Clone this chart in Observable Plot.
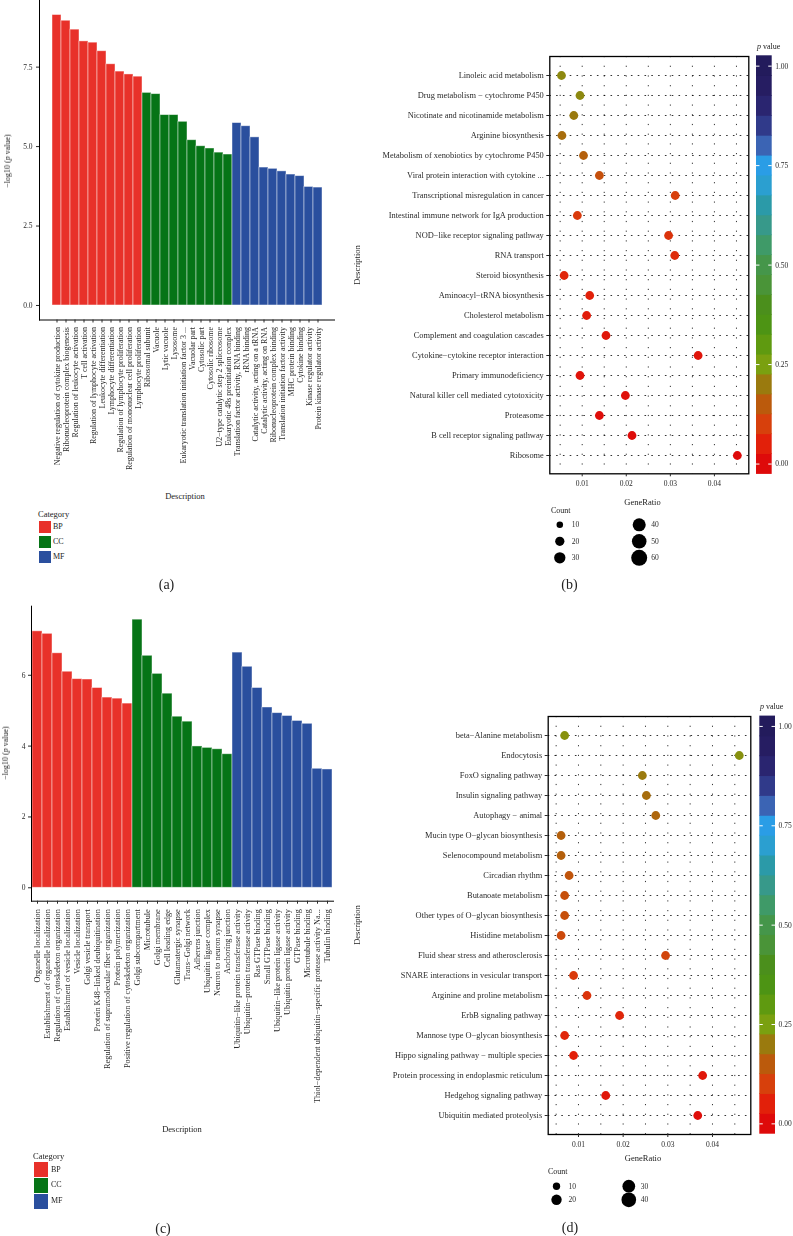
<!DOCTYPE html>
<html><head><meta charset="utf-8">
<script src="https://cdn.jsdelivr.net/npm/d3@7"></script>
<script src="https://cdn.jsdelivr.net/npm/@observablehq/plot@0.6"></script>
<style>
body{margin:0;background:#fff;}
#fig{position:relative;width:793px;height:1236px;overflow:hidden;font-family:"Liberation Serif",serif;color:#222;}
.t{position:absolute;white-space:nowrap;line-height:1;}
svg{position:absolute;overflow:visible;will-change:transform;}
</style></head><body><div id="fig"></div>
<script>
// ---------- DATA ----------
const categories = ["BP","CC","MF"];
const categoryColors = ["#e8312a","#067416","#2a4f9e"];

// Panel (a) GO terms
const aBP = ["Negative regulation of cytokine production","Ribonucleoprotein complex biogenesis","Regulation of leukocyte activation","T cell activation","Regulation of lymphocyte activation","Leukocyte differentiation","Lymphocyte differentiation","Regulation of lymphocyte proliferation","Regulation of mononuclear cell proliferation","Lymphocyte proliferation"];
const aBPValues = [9.14, 8.96, 8.68, 8.31, 8.27, 8.00, 7.59, 7.36, 7.27, 7.20];
const aCC = ["Ribosomal subunit","Vacuole","Lytic vacuole","Lysosome","Eukaryotic translation initiation factor 3 ...","Vacuolar part","Cytosolic part","Cytosolic ribosome","U2−type catalytic step 2 spliceosome","Eukaryotic 48s preinitiation complex"];
const aCCValues = [6.69, 6.65, 5.99, 5.99, 5.78, 5.20, 5.01, 4.94, 4.81, 4.75];
const aMF = ["Translation factor activity, RNA binding","rRNA binding","Catalytic activity, acting on a tRNA","Catalytic activity, acting on RNA","Ribonucleoprotein complex binding","Translation initiation factor activity","MHC protein binding","Cytokine binding","Kinase regulator activity","Protein kinase regulator activity"];
const aMFValues = [5.74, 5.64, 5.29, 4.34, 4.30, 4.22, 4.12, 4.07, 3.73, 3.71];
const aYTicks = [0, 2.5, 5, 7.5];

// Panel (c) GO terms
const cBP = ["Organelle localization","Establishment of organelle localization","Regulation of cytoskeleton organization","Establishment of vesicle localization","Vesicle localization","Golgi vesicle transport","Protein K48−linked deubiquitination","Regulation of supramolecular fiber organization","Protein polymerization","Positive regulation of cytoskeleton organization"];
const cBPValues = [7.24, 7.17, 6.62, 6.10, 5.89, 5.88, 5.64, 5.37, 5.34, 5.20];
const cCC = ["Golgi subcompartment","Microtubule","Golgi membrane","Cell leading edge","Glutamatergic synapse","Trans−Golgi network","Adherens junction","Ubiquitin ligase complex","Neuron to neuron synapse","Anchoring junction"];
const cCCValues = [7.57, 6.55, 6.04, 5.48, 4.83, 4.69, 3.99, 3.95, 3.91, 3.77];
const cMF = ["Ubiquitin−like protein transferase activity","Ubiquitin−protein transferase activity","Ras GTPase binding","Small GTPase binding","Ubiquitin−like protein ligase activity","Ubiquitin protein ligase activity","GTPase binding","Microtubule binding","Thiol−dependent ubiquitin−specific protease activity Na...","Tubulin binding"];
const cMFValues = [6.64, 6.24, 5.64, 5.09, 4.93, 4.85, 4.71, 4.63, 3.36, 3.34];
const cYTicks = [0, 2, 4, 6];

// Panel (b) KEGG
const bTerms = ["Linoleic acid metabolism","Drug metabolism − cytochrome P450","Nicotinate and nicotinamide metabolism","Arginine biosynthesis","Metabolism of xenobiotics by cytochrome P450","Viral protein interaction with cytokine ...","Transcriptional misregulation in cancer","Intestinal immune network for IgA production","NOD−like receptor signaling pathway","RNA transport","Steroid biosynthesis","Aminoacyl−tRNA biosynthesis","Cholesterol metabolism","Complement and coagulation cascades","Cytokine−cytokine receptor interaction","Primary immunodeficiency","Natural killer cell mediated cytotoxicity","Proteasome","B cell receptor signaling pathway","Ribosome"];
const bGeneRatio = [0.0053, 0.0095, 0.0081, 0.0054, 0.0103, 0.0139, 0.0311, 0.0089, 0.0296, 0.0310, 0.0059, 0.0117, 0.0110, 0.0154, 0.0363, 0.0095, 0.0198, 0.0139, 0.0213, 0.0452];
const bPValue = [0.22, 0.22, 0.20, 0.18, 0.16, 0.13, 0.10, 0.09, 0.08, 0.07, 0.06, 0.05, 0.04, 0.03, 0.025, 0.02, 0.015, 0.01, 0.005, 0.001];
const bCountLegend = [10, 20, 30, 40, 50, 60];

// Panel (d) KEGG
const dTerms = ["beta−Alanine metabolism","Endocytosis","FoxO signaling pathway","Insulin signaling pathway","Autophagy − animal","Mucin type O−glycan biosynthesis","Selenocompound metabolism","Circadian rhythm","Butanoate metabolism","Other types of O−glycan biosynthesis","Histidine metabolism","Fluid shear stress and atherosclerosis","SNARE interactions in vesicular transport","Arginine and proline metabolism","ErbB signaling pathway","Mannose type O−glycan biosynthesis","Hippo signaling pathway − multiple species","Protein processing in endoplasmic reticulum","Hedgehog signaling pathway","Ubiquitin mediated proteolysis"];
const dGeneRatio = [0.0069, 0.0460, 0.0243, 0.0252, 0.0273, 0.0061, 0.0061, 0.0079, 0.0069, 0.0069, 0.0061, 0.0295, 0.0089, 0.0119, 0.0192, 0.0069, 0.0089, 0.0378, 0.0161, 0.0367];
const dPValue = [0.23, 0.23, 0.20, 0.18, 0.17, 0.16, 0.16, 0.14, 0.13, 0.13, 0.12, 0.11, 0.09, 0.08, 0.06, 0.06, 0.05, 0.03, 0.03, 0.01];
const dCountLegend = [10, 20, 30, 40];

const ratioTicks = [0.01, 0.02, 0.03, 0.04];
const ratioGrid = [0.005, 0.01, 0.015, 0.02, 0.025, 0.03, 0.035, 0.04, 0.045];
const pTicks = [0, 0.25, 0.5, 0.75, 1];
const pStops = [0,0.05,0.1,0.15,0.2,0.25,0.3,0.35,0.4,0.45,0.5,0.55,0.6,0.65,0.7,0.75,0.8,0.85,0.9,0.95,1];
const pColors = ["#de0a0a","#e2200a","#d7400c","#bb5a0c","#9a7a0e","#7aa010","#5f9a10","#4d9414","#4b8f1c","#4a9438","#45964a","#3f9a68","#37998a","#2b9aa8","#2b9fd0","#2a9de6","#3b64b4","#303a8a","#2a2570","#261d62","#231b5c"];

// ---------- HELPERS ----------
const fig = document.getElementById("fig");
const FONT = '"Liberation Serif", serif';
function put(el, left, top){ el.style.left = left + "px"; el.style.top = top + "px"; fig.appendChild(el); }
function txt(html, x, y, o = {}){
  const d = document.createElement("div"); d.className = "t";
  d.innerHTML = html; d.style.fontSize = (o.size || 8.5) + "px"; d.style.color = o.color || "#222";
  d.style.left = x + "px"; d.style.top = y + "px";
  const a = o.anchor || "middle";
  const tx = a === "start" ? "0" : a === "end" ? "-100%" : "-50%";
  d.style.transform = o.rot ? "translate(-50%,-50%) rotate(-90deg)" : `translate(${tx},-50%)`;
  fig.appendChild(d);
}
const catColor = {domain: categories, range: categoryColors};
const pColor = {type: "linear", domain: pStops, range: pColors, clamp: true};

function rows(labels, values, cat){ return labels.map((desc, i) => ({desc, v: values[i], cat})); }

// ---------- BAR PANELS ----------
function barPanel(data, opt){
  return Plot.plot({
    width: opt.width, height: opt.height,
    marginLeft: opt.ml, marginRight: opt.mr, marginTop: opt.mt, marginBottom: opt.mb,
    style: {fontFamily: FONT, fontSize: "7.5px", color: "#2a2a2a", background: "transparent"},
    x: {type: "band", domain: data.map(d => d.desc), paddingInner: 0, paddingOuter: 0.1},
    y: {domain: opt.ydomain},
    color: catColor,
    marks: [
      Plot.barY(data, {x: "desc", y1: 0, y2: "v", fill: "cat", stroke: "#ffffff", strokeOpacity: 0.55, strokeWidth: 0.8}),
      Plot.frame({anchor: "left", stroke: "#000", strokeWidth: 1}),
      Plot.frame({anchor: "bottom", stroke: "#000", strokeWidth: 1}),
      Plot.axisX({tickRotate: -90, tickSize: 3, tickPadding: opt.xpad, label: null, fontSize: opt.xfont}),
      Plot.axisY({ticks: opt.yticks, tickFormat: opt.yfmt, tickSize: 3, tickPadding: opt.ypad, label: null, fontSize: 7.5})
    ]
  });
}

const dataA = [...rows(aBP, aBPValues, "BP"), ...rows(aCC, aCCValues, "CC"), ...rows(aMF, aMFValues, "MF")];
const plotA = barPanel(dataA, {width: 380, height: 480, ml: 39, mr: 46, mt: 0, mb: 160.5,
  ydomain: [-0.457, 9.597], yticks: aYTicks, yfmt: ".1f", xpad: 4, ypad: 4, xfont: 8.0});
put(plotA, 0, 0);
txt("−log10 (<i>p</i> value)", 8, 161, {rot: true, size: 8});
txt("Description", 185, 496, {size: 8.5});
txt("Category", 38, 513.5, {anchor: "start", size: 8.5});

const dataC = [...rows(cBP, cBPValues, "BP"), ...rows(cCC, cCCValues, "CC"), ...rows(cMF, cMFValues, "MF")];
const plotC = barPanel(dataC, {width: 380, height: 560, ml: 31, mr: 47, mt: 15.7, mb: 249.3,
  ydomain: [-0.379, 7.95], yticks: cYTicks, yfmt: "d", xpad: 5, ypad: 3, xfont: 8.3});
put(plotC, 0, 590);
txt("−log10 (<i>p</i> value)", 6, 753, {rot: true, size: 8});
txt("Description", 182, 1129, {size: 8.5});
txt("Category", 33, 1156, {anchor: "start", size: 8.5});

// category legends (a) and (c)
function catLegend(x, ys, size, labelX){
  categories.forEach((c, i) => {
    const s = document.createElement("div");
    s.style.cssText = `position:absolute;left:${x}px;top:${ys[i]}px;width:${size}px;height:${size}px;background:${categoryColors[i]};`;
    fig.appendChild(s);
    txt(c, labelX, ys[i] + size / 2, {anchor: "start", size: 8});
  });
}
catLegend(38.5, [521, 536, 551], 12, 53);
catLegend(33.5, [1162.3, 1178, 1194], 14.5, 51);

// ---------- DOT PANELS ----------
function dotPanel(terms, ratios, pvals, opt){
  const data = terms.map((desc, i) => ({desc, ratio: ratios[i], p: pvals[i]}));
  return Plot.plot({
    width: opt.width, height: opt.height,
    marginLeft: opt.ml, marginRight: opt.mr, marginTop: opt.mt, marginBottom: opt.mb,
    style: {fontFamily: FONT, fontSize: "7.5px", color: "#2a2a2a", background: "transparent"},
    x: {domain: opt.xdomain},
    y: {type: "point", domain: terms, padding: 0.5},
    color: pColor,
    marks: [
      Plot.ruleX(ratioGrid, {stroke: "#000", strokeWidth: 0.8, strokeDasharray: "1.2,8.5"}),
      Plot.ruleY(terms, {stroke: "#000", strokeWidth: 0.8, strokeDasharray: "1.6,5.2"}),
      Plot.frame({stroke: "#000", strokeWidth: 1.3}),
      Plot.dot(data, {x: "ratio", y: "desc", fill: "p", r: 4.4}),
      Plot.axisX({ticks: ratioTicks, tickFormat: ".2f", tickSize: 3, tickPadding: 4, label: null, fontSize: 7.5}),
      Plot.axisY({tickSize: 3, tickPadding: 3, label: null, fontSize: 8.4})
    ]
  });
}
function colorBar(opt){
  return Plot.plot({
    width: opt.width, height: opt.height,
    marginLeft: opt.ml, marginRight: opt.mr, marginTop: opt.mt, marginBottom: opt.mb,
    style: {fontFamily: FONT, fontSize: "7.5px", color: "#2a2a2a", background: "transparent"},
    x: {domain: [0, 1], axis: null},
    y: {domain: [-0.025, 1.025], axis: null},
    color: pColor,
    marks: [
      Plot.rect(pStops, {x1: 0, x2: 1, y1: d => d - 0.026, y2: d => d + 0.026, fill: d => d}),
      Plot.ruleY(pTicks, {x1: 0, x2: 0.22, stroke: "#fff", strokeWidth: 1}),
      Plot.ruleY(pTicks, {x1: 0.78, x2: 1, stroke: "#fff", strokeWidth: 1}),
      Plot.axisY(pTicks, {anchor: "right", tickSize: 0, tickPadding: 3, tickFormat: ".2f", label: null, fontSize: 7.5})
    ]
  });
}
function countLegend(counts, opt){
  const data = counts.map((c, i) => ({c, col: i < opt.perCol ? 0 : 1, row: i % opt.perCol}));
  return Plot.plot({
    width: opt.width, height: opt.height, margin: 0,
    style: {fontFamily: FONT, fontSize: "7.5px", color: "#2a2a2a", background: "transparent"},
    x: {domain: [0, 1], range: opt.xr, axis: null},
    y: {domain: [0, opt.perCol - 1], range: opt.yr, axis: null},
    r: {domain: [0, opt.rmax], range: [0, opt.rpx]},
    marks: [
      Plot.dot(data, {x: "col", y: "row", r: "c", fill: "#000"}),
      Plot.text(data, {x: "col", y: "row", text: d => String(d.c), dx: 12, textAnchor: "start", fontSize: 7.5})
    ]
  });
}

// (b)
const plotB = dotPanel(bTerms, bGeneRatio, bPValue, {width: 375, height: 510, ml: 169.3, mr: 6.7, mt: 56, mb: 36.7, xdomain: [0.00265, 0.0478]});
put(plotB, 380, 0);
const cbB = colorBar({width: 48, height: 490, ml: 11, mr: 21.3, mt: 55.7, mb: 16.5});
put(cbB, 745, 0);
txt("<i>p</i> value", 757, 47, {anchor: "start", size: 8});
txt("Description", 357, 265, {rot: true, size: 8.5});
txt("GeneRatio", 642.5, 501.5, {size: 8.5});
txt("Count", 551, 510.5, {anchor: "start", size: 8});
put(countLegend(bCountLegend, {width: 130, height: 65, perCol: 3, xr: [19.3, 98.7], yr: [19.3, 52.3], rmax: 60, rpx: 8}), 540, 505);

// (d)
const plotD = dotPanel(dTerms, dGeneRatio, dPValue, {width: 375, height: 470, ml: 167.7, mr: 4.7, mt: 16, mb: 36, xdomain: [0.00322, 0.04858]});
put(plotD, 380, 700);
const cbD = colorBar({width: 45, height: 450, ml: 11.3, mr: 18, mt: 16, mb: 16.7});
put(cbD, 748, 700);
txt("<i>p</i> value", 760, 707, {anchor: "start", size: 8});
txt("Description", 357, 925, {rot: true, size: 8.5});
txt("GeneRatio", 643, 1157.5, {size: 8.5});
txt("Count", 548, 1172, {anchor: "start", size: 8});
put(countLegend(dCountLegend, {width: 120, height: 45, perCol: 2, xr: [16, 88.3], yr: [15.7, 29.3], rmax: 40, rpx: 7.35}), 540, 1170);

// panel letters
txt("(a)", 166.5, 585, {size: 14});
txt("(b)", 569.5, 585, {size: 14});
txt("(c)", 163, 1229, {size: 14});
txt("(d)", 570, 1228, {size: 14});
</script></body></html>
